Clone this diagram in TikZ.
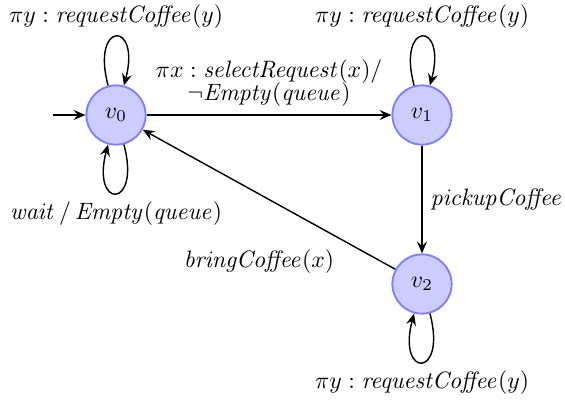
\documentclass[tikz,border=0pt]{standalone}
\usetikzlibrary{arrows.meta}
\begin{document}
\begin{tikzpicture}[x=0.422pt,y=-0.422pt,
  >={Stealth[length=5pt,width=4.2pt,inset=1.8pt]},
  state/.style={circle,draw=blue!50,fill=blue!20,thick,minimum size=25pt,inner sep=0pt},
  conn/.style={->,semithick},
  every loop/.style={min distance=10mm},
  lbl/.style={inner sep=3.3pt}]
\useasboundingbox (0,0) rectangle (565,405);
\node[state] (v0) at (116,115) {$v_0$};
\node[state] (v1) at (422,115) {$v_1$};
\node[state] (v2) at (422,284) {$v_2$};
\coordinate (init) at (53,115);
\draw[conn] (init) -- (v0);
\draw[conn] (v0) edge[loop above] node[lbl,above] (l0a) {$\pi y : \mathit{requestCoffee}(y)$} (v0);
\draw[conn] (v0) edge[loop below] node[lbl,below] (l0b) {$\mathit{wait}\,/\,\mathit{Empty}(\mathit{queue})$} (v0);
\draw[conn] (v1) edge[loop above] node[lbl,above] (l1a) {$\pi y : \mathit{requestCoffee}(y)$} (v1);
\draw[conn] (v2) edge[loop below] node[lbl,below] (l2b) {$\pi y : \mathit{requestCoffee}(y)$} (v2);
\draw[conn] (v0) -- node[lbl,above,align=center] (l01) {$\pi x : \mathit{selectRequest}(x)/$\\[-2.3pt]$\neg\mathit{Empty}(\mathit{queue})$} (v1);
\draw[conn] (v1) -- node[lbl,right] (l12) {$\mathit{pickupCoffee}$} (v2);
\draw[conn] (v2) -- (v0);
\node[lbl] (l20) at (259,262) {$\mathit{bringCoffee}(x)$};
\end{tikzpicture}
\end{document}
